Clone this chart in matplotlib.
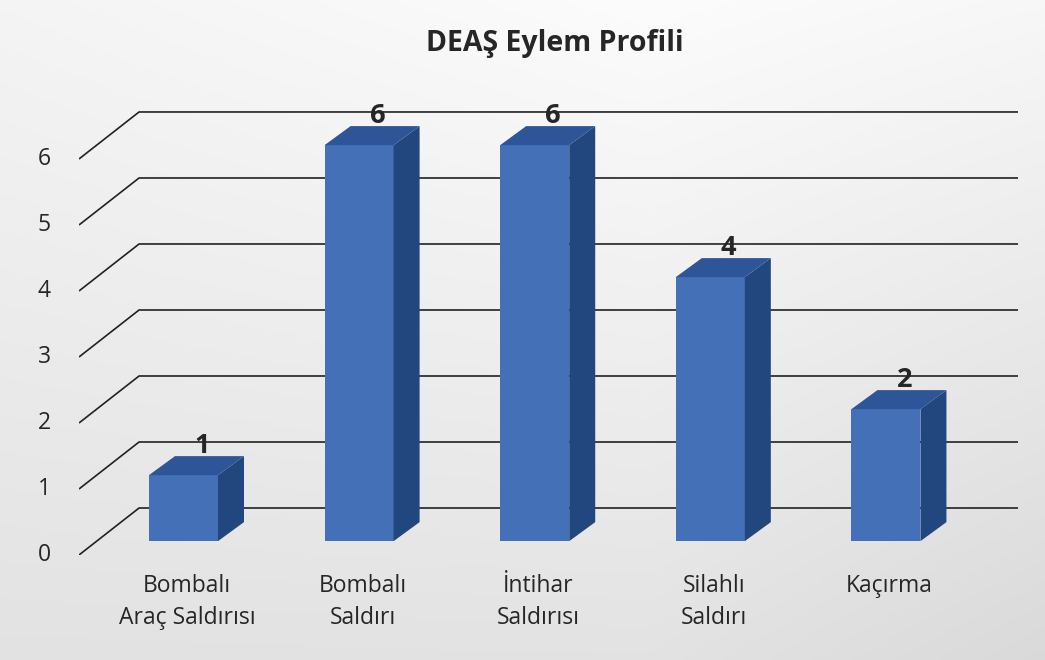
import numpy as np
import matplotlib
matplotlib.use("Agg")
import matplotlib.pyplot as plt
from matplotlib.patches import Polygon

plt.rcParams["font.family"] = ["Open Sans", "DejaVu Sans"]

# Data
categories = ["Bombalı\nAraç Saldırısı", "Bombalı\nSaldırı", "İntihar\nSaldırısı",
              "Silahlı\nSaldırı", "Kaçırma"]
values = [1, 6, 6, 4, 2]
y_ticks = [0, 1, 2, 3, 4, 5, 6]
title = "DEAŞ Eylem Profili"

# Colours
FRONT = "#4470b8"
SIDE = "#22467e"
TOP = "#2e5597"
GRID = "#222222"
TEXT = "#262626"

# 3D geometry in data units
WALL_DX, WALL_DY = 0.342, 0.712   # depth of the back wall
BAR_DX, BAR_DY = 0.148, 0.288     # depth of each bar
BASE_DY = 0.21                    # bars stand a little behind the front edge
BAR_W = 0.393

W, H = 1045, 660
fig = plt.figure(figsize=(W / 100, H / 100), dpi=100)

# background gradient
bg = fig.add_axes([0, 0, 1, 1], zorder=0)
xx, yy = np.meshgrid(np.linspace(0, W, 300), np.linspace(0, H, 200))
shade = 252 - 0.012 * np.abs(xx - 650) - 0.045 * yy * (0.6 + 0.4 * xx / W)
shade = np.clip(shade, 0, 255) / 255
bg.imshow(np.dstack([shade] * 3), extent=[0, 1, 0, 1], aspect="auto")
bg.axis("off")

ax = fig.add_axes([79 / W, (H - 555) / H, (1018 - 79) / W, (555 - 90) / H], zorder=1)
ax.patch.set_alpha(0)
x0, x1 = -0.595, 4.752
ax.set_xlim(x0, x1)
ax.set_ylim(0, 7.045)
ax.axis("off")

# gridlines: diagonal on the floor/side, then horizontal along the back wall
for v in y_ticks:
    ax.plot([x0, x0 + WALL_DX, x1], [v, v + WALL_DY, v + WALL_DY],
            color=GRID, lw=1.2, solid_capstyle="butt", zorder=1)
    ax.annotate(str(v), (x0, v), xytext=(-25, 0), textcoords="offset points",
                ha="center", va="center", fontsize=16.5, color=TEXT)

# bars: front face via ax.bar, side and top as polygons
for i, v in enumerate(values):
    left = i - BAR_W / 2
    right = i + BAR_W / 2
    b = BASE_DY
    t = BASE_DY + v
    ax.bar(i, v, width=BAR_W, bottom=b, color=FRONT, zorder=3)
    ax.add_patch(Polygon([(right, b), (right + BAR_DX, b + BAR_DY),
                          (right + BAR_DX, t + BAR_DY), (right, t)],
                         closed=True, color=SIDE, lw=0, zorder=3))
    ax.add_patch(Polygon([(left, t), (left + BAR_DX, t + BAR_DY),
                          (right + BAR_DX, t + BAR_DY), (right, t)],
                         closed=True, color=TOP, lw=0, zorder=3))
    ax.annotate(str(v), (i + BAR_DX / 2 + 0.03, t + BAR_DY), xytext=(0, 2),
                textcoords="offset points", ha="center", va="baseline",
                fontsize=19.5, fontweight="bold", color=TEXT, zorder=4)
    ax.annotate(categories[i], (i + 0.02, 0), xytext=(0, -14),
                textcoords="offset points", ha="center", va="top",
                fontsize=16.5, color=TEXT, linespacing=1.4)

fig.text(555 / W, 1 - 44 / H, title, ha="center", va="center",
         fontsize=20.5, fontweight="bold", color=TEXT)

fig.savefig("out.png", dpi=100)
